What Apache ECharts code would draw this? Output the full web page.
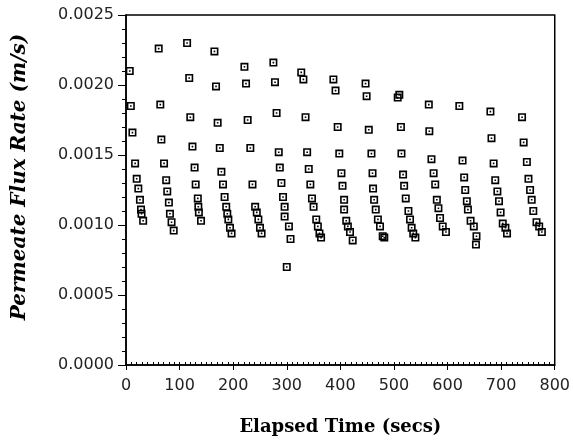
<!DOCTYPE html>
<html>
<head>
<meta charset="UTF-8">
<title>Permeate Flux Rate</title>
<script src="https://cdn.jsdelivr.net/npm/echarts@6/dist/echarts.min.js"></script>
<style>
	html, body { margin: 0; padding: 0; background: #fff; }
	#chart { width: 573px; height: 443px; }
</style>
</head>
<body>
	<div id="chart"></div>

<script type="text/javascript">
	// elapsed time (secs), one row per filtration cycle
	var timeSecs = [
		7, 9, 12, 17, 20, 23, 26, 28, 29, 32,
		61, 64, 66, 71, 75, 77, 80, 82, 85, 89,
		114, 118, 120, 124, 128, 130, 134, 135, 136, 140,
		165, 168, 171, 175, 178, 181, 184, 187, 189, 191, 194, 197,
		221, 224, 227, 232, 236, 241, 244, 247, 250, 253,
		275, 278, 281, 285, 287, 290, 293, 296, 296, 300, 304, 307,
		327, 331, 335, 338, 341, 344, 347, 350, 355, 358, 361, 364,
		387, 391, 395, 398, 402, 404, 407, 407, 411, 414, 418, 423,
		447, 449, 453, 458, 460, 461, 463, 466, 470, 474, 479, 482,
		507, 510, 513, 514, 517, 519, 522, 527, 530, 533, 536, 540,
		565, 566, 570, 574, 577, 580, 583, 586, 591, 597,
		622, 628, 631, 633, 636, 638, 643, 649, 653, 654,
		680, 682, 686, 689, 693, 696, 699, 703, 708, 711,
		739, 742, 748, 751, 754, 757, 760, 766, 771, 776
	];
	// permeate flux rate (m/s), same order as timeSecs
	var fluxRate = [
		.00210, .00185, .00166, .00144, .00133, .00126, .00118, .00111, .00108, .00103,
		.00226, .00186, .00161, .00144, .00132, .00124, .00116, .00108, .00102, .00096,
		.00230, .00205, .00177, .00156, .00141, .00129, .00119, .00113, .00109, .00103,
		.00224, .00199, .00173, .00155, .00138, .00129, .00120, .00113, .00108, .00104, .00098, .00094,
		.00213, .00201, .00175, .00155, .00129, .00113, .00109, .00104, .00098, .00094,
		.00216, .00202, .00180, .00152, .00141, .00130, .00120, .00113, .00106, .00070, .00099, .00090,
		.00209, .00204, .00177, .00152, .00140, .00129, .00119, .00113, .00104, .00099, .00094, .00091,
		.00204, .00196, .00170, .00151, .00137, .00128, .00118, .00111, .00103, .00099, .00095, .00089,
		.00201, .00192, .00168, .00151, .00137, .00126, .00118, .00111, .00104, .00099, .00092, .00091,
		.00191, .00193, .00170, .00151, .00136, .00128, .00119, .00110, .00104, .00098, .00094, .00091,
		.00186, .00167, .00147, .00137, .00129, .00118, .00112, .00105, .00099, .00095,
		.00185, .00146, .00134, .00125, .00117, .00111, .00103, .00099, .00086, .00092,
		.00181, .00162, .00144, .00132, .00124, .00117, .00109, .00101, .00098, .00094,
		.00177, .00159, .00145, .00133, .00125, .00118, .00110, .00102, .00099, .00095
	];
	var xTicks = [0, 100, 200, 300, 400, 500, 600, 700, 800];
	var yTicks = [0, 0.0005, 0.0010, 0.0015, 0.0020, 0.0025];

	var points = [];
	for (var i = 0; i < timeSecs.length; i++) {
		points.push([timeSecs[i], fluxRate[i]]);
	}

	var labelFont = { fontFamily: 'DejaVu Sans', fontSize: 16, color: '#222' };

	var option = {
		animation: false,
		backgroundColor: '#fff',
		grid: { left: 126, right: 13, top: 15, bottom: 78, show: true, borderColor: '#000', borderWidth: 1.5 },
		xAxis: [{
			type: 'value',
			min: xTicks[0], max: xTicks[xTicks.length - 1], interval: 100,
			name: 'Elapsed Time (secs)',
			nameLocation: 'middle',
			nameGap: 53,
			nameTextStyle: { fontFamily: 'DejaVu Serif', fontWeight: 'bold', fontSize: 18, color: '#000' },
			axisLine: { lineStyle: { color: '#000', width: 1.5 } },
			axisTick: { length: 5, lineStyle: { color: '#000' } },
			axisLabel: Object.assign({ margin: 13 }, labelFont),
			splitLine: { show: false }
		}, {
			// second copy only for the small inward ticks
			type: 'value', position: 'bottom',
			min: xTicks[0], max: xTicks[xTicks.length - 1], interval: 100,
			axisLine: { show: false },
			axisTick: { inside: true, length: 3, lineStyle: { color: '#000' } },
			minorTick: { show: true, splitNumber: 10, length: 3, lineStyle: { color: '#000' } },
			axisLabel: { show: false },
			splitLine: { show: false }
		}],
		yAxis: {
			type: 'value',
			min: yTicks[0], max: yTicks[yTicks.length - 1], interval: 0.0005,
			name: 'Permeate Flux Rate (m/s)',
			nameLocation: 'middle',
			nameGap: 96,
			nameTextStyle: { fontFamily: 'DejaVu Serif', fontWeight: 'bold', fontStyle: 'italic', fontSize: 20, color: '#000', padding: [0, 0, 0, 26] },
			axisLine: { lineStyle: { color: '#000', width: 1.5 } },
			axisTick: { length: 8, lineStyle: { color: '#000' } },
			minorTick: { show: true, splitNumber: 5, length: 4, lineStyle: { color: '#000' } },
			axisLabel: Object.assign({
				margin: 12,
				formatter: function (v) { return v.toFixed(4); }
			}, labelFont),
			splitLine: { show: false }
		},
		series: [{
			type: 'scatter',
			data: points,
			symbol: 'path://M0,0H10V10H0Z M2,2V8H8V2Z M4,4H6V6H4Z',
			symbolSize: 8,
			itemStyle: { color: '#000', opacity: 1 }
		}]
	};

	var myChart = echarts.init(document.getElementById('chart'));
	myChart.setOption(option);
</script>
</body>
</html>
